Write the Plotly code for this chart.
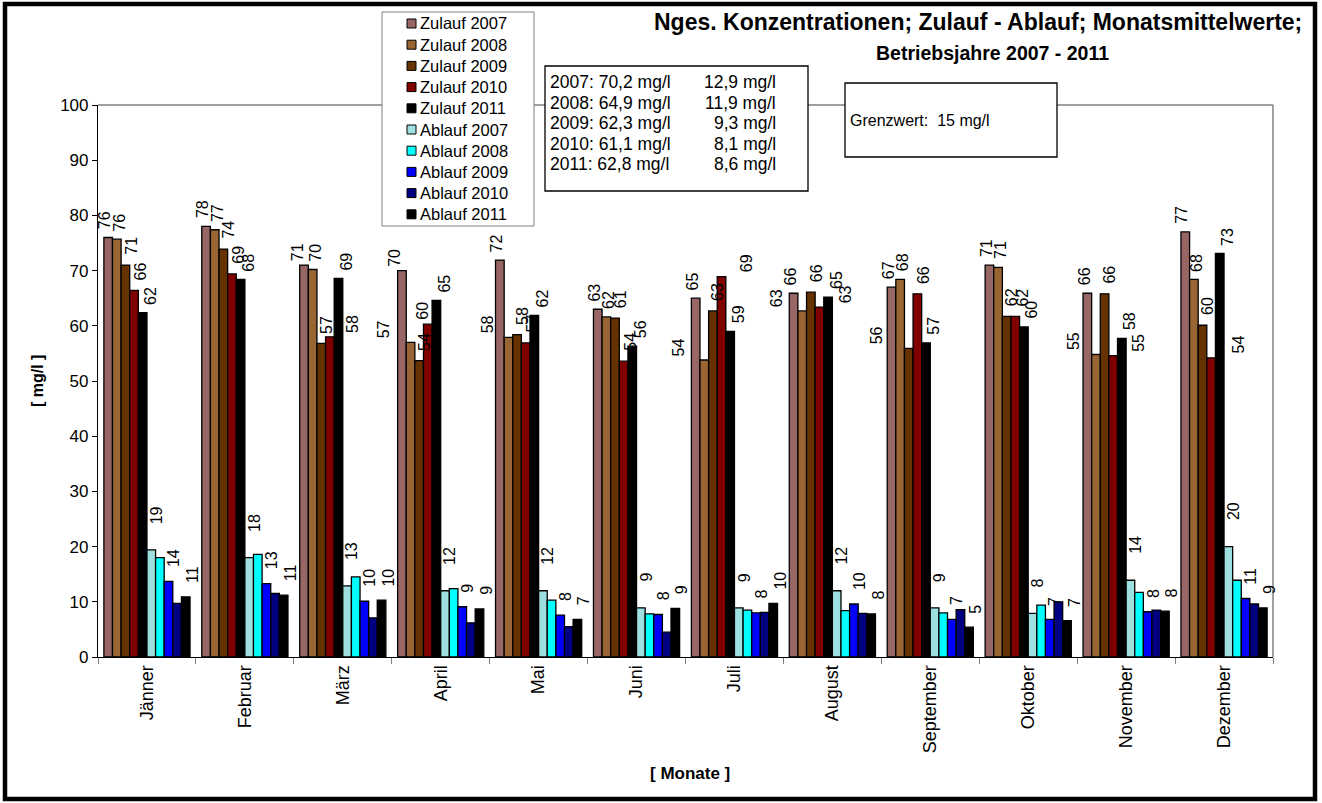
import plotly.graph_objects as go

# ---- data -------------------------------------------------------------
months = ["Jänner", "Februar", "März", "April", "Mai", "Juni", "Juli",
          "August", "September", "Oktober", "November", "Dezember"]

zulauf_2007 = [76.0, 78.0, 71.0, 70.0, 71.9, 63.0, 65.0, 65.9, 67.0, 71.0, 65.9, 77.0]
zulauf_2008 = [75.7, 77.4, 70.2, 57.0, 57.9, 61.6, 53.8, 62.7, 68.4, 70.6, 54.8, 68.4]
zulauf_2009 = [71.0, 73.9, 56.8, 53.7, 58.4, 61.4, 62.7, 66.1, 55.9, 61.7, 65.8, 60.1]
zulauf_2010 = [66.4, 69.4, 58.0, 60.3, 56.9, 53.6, 68.9, 63.4, 65.8, 61.7, 54.6, 54.2]
zulauf_2011 = [62.4, 68.4, 68.6, 64.6, 61.9, 56.3, 59.0, 65.2, 56.9, 59.8, 57.7, 73.1]
ablauf_2007 = [19.4, 18.0, 12.9, 12.0, 12.0, 8.9, 8.9, 12.0, 8.9, 7.9, 13.9, 20.0]
ablauf_2008 = [18.0, 18.6, 14.5, 12.4, 10.3, 7.8, 8.5, 8.4, 8.0, 9.4, 11.7, 13.9]
ablauf_2009 = [13.7, 13.3, 10.1, 9.1, 7.6, 7.7, 8.0, 9.6, 6.8, 6.8, 8.2, 10.6]
ablauf_2010 = [9.7, 11.5, 7.1, 6.2, 5.5, 4.5, 8.1, 7.9, 8.6, 10.0, 8.5, 9.6]
ablauf_2011 = [10.9, 11.2, 10.3, 8.7, 6.8, 8.8, 9.7, 7.8, 5.4, 6.6, 8.3, 8.9]

series_names = ["Zulauf 2007", "Zulauf 2008", "Zulauf 2009", "Zulauf 2010", "Zulauf 2011",
                "Ablauf 2007", "Ablauf 2008", "Ablauf 2009", "Ablauf 2010", "Ablauf 2011"]
series_values = [zulauf_2007, zulauf_2008, zulauf_2009, zulauf_2010, zulauf_2011,
                 ablauf_2007, ablauf_2008, ablauf_2009, ablauf_2010, ablauf_2011]

# yearly means (Zulauf / Ablauf)
mean_years = ["2007", "2008", "2009", "2010", "2011"]
mean_zulauf = [70.2, 64.9, 62.3, 61.1, 62.8]
mean_ablauf = [12.9, 11.9, 9.3, 8.1, 8.6]
grenzwert = 15

title_lines = ["Nges. Konzentrationen; Zulauf - Ablauf; Monatsmittelwerte;",
               "Betriebsjahre 2007 - 2011"]

# ---- style ------------------------------------------------------------
FONT = "Arial, 'Liberation Sans', sans-serif"
colors = ["#996666", "#996633", "#663300", "#800000", "#000000",
          "#9EE0E0", "#00FFFF", "#0000FF", "#000080", "#000000"]

W_FIG, H_FIG = 1322, 803
L, R, T, B = 98, 1273, 105, 657          # plot area in pixels
PW, PH = R - L, B - T

BARGAP = 0.12
N = len(series_names)
BW = (1 - BARGAP) / N                     # bar width in category units


def px_x(p):
    return (p - L) / PW


def px_y(p):
    return (B - p) / PH


def fmt(v):
    return f"{v:.1f}".replace(".", ",")


# data-label placement (label offset in bar widths, gap in px)
label_series = {"Zulauf 2007": (-0.4, 6), "Zulauf 2008": (0.3, 6), "Zulauf 2009": (0.6, 8),
                "Zulauf 2010": (0.8, 8), "Zulauf 2011": (0.9, 6),
                "Ablauf 2007": (0.6, 24), "Ablauf 2009": (0.6, 12), "Ablauf 2011": (0.8, 12)}
label_shift = {("März", "Zulauf 2007"): -0.8, ("März", "Zulauf 2010"): 2.7,
               ("April", "Zulauf 2007"): -0.9, ("April", "Zulauf 2008"): -3.2,
               ("April", "Zulauf 2010"): -0.6, ("Mai", "Zulauf 2008"): -2.5,
               ("Juli", "Zulauf 2008"): -3.0, ("Juli", "Zulauf 2010"): 2.9,
               ("August", "Zulauf 2008"): -2.9, ("August", "Zulauf 2010"): 3.0,
               ("September", "Zulauf 2009"): -3.7, ("November", "Zulauf 2008"): -2.6,
               ("November", "Zulauf 2010"): 2.9, ("Dezember", "Zulauf 2010"): 3.2}

fig = go.Figure()
for name, vals, col in zip(series_names, series_values, colors):
    fig.add_trace(go.Bar(x=months, y=vals, name=name, showlegend=False,
                         marker=dict(color=col, line=dict(color="black", width=1.3))))

annotations = []
for s, (name, vals) in enumerate(zip(series_names, series_values)):
    if name not in label_series:
        continue
    dx, dy = label_series[name]
    for m, (month, v) in enumerate(zip(months, vals)):
        shift = label_shift.get((month, name))
        gap = dy
        if shift is not None:
            dx_use, gap = shift, 2
        else:
            dx_use = dx
        xc = m - (1 - BARGAP) / 2 + (s + 0.5) * BW + dx_use * BW
        annotations.append(dict(x=xc, y=v, xref="x", yref="y", text=f"{v:.0f}",
                                textangle=-90, showarrow=False, xanchor="center",
                                yanchor="bottom", yshift=gap,
                                font=dict(family=FONT, size=16, color="black")))

# title
annotations.append(dict(x=px_x(978), y=px_y(22), xref="paper", yref="paper",
                        text=f"<b>{title_lines[0]}</b>", showarrow=False,
                        xanchor="center", yanchor="middle",
                        font=dict(family=FONT, size=23, color="black")))
annotations.append(dict(x=px_x(992), y=px_y(53), xref="paper", yref="paper",
                        text=f"<b>{title_lines[1]}</b>", showarrow=False,
                        xanchor="center", yanchor="middle",
                        font=dict(family=FONT, size=19.5, color="black")))

# axis titles
annotations.append(dict(x=px_x(37), y=px_y(381), xref="paper", yref="paper",
                        text="<b>[ mg/l ]</b>", textangle=-90, showarrow=False,
                        xanchor="center", yanchor="middle",
                        font=dict(family=FONT, size=16, color="black")))
annotations.append(dict(x=px_x(690), y=px_y(773), xref="paper", yref="paper",
                        text="<b>[ Monate ]</b>", showarrow=False,
                        xanchor="center", yanchor="middle",
                        font=dict(family=FONT, size=17, color="black")))

shapes = []
# plot-area frame (top / right)
shapes.append(dict(type="line", xref="paper", yref="paper", x0=0, x1=1, y0=1, y1=1,
                   line=dict(color="#808080", width=1.5), layer="below"))
shapes.append(dict(type="line", xref="paper", yref="paper", x0=1, x1=1, y0=0, y1=1,
                   line=dict(color="#808080", width=1.5), layer="below"))

# legend box
shapes.append(dict(type="rect", xref="paper", yref="paper",
                   x0=px_x(382), x1=px_x(534), y0=px_y(226), y1=px_y(12),
                   fillcolor="white", line=dict(color="#808080", width=1), layer="above"))
for i, (name, col) in enumerate(zip(series_names, colors)):
    yc = 23.5 + i * 21.2
    shapes.append(dict(type="rect", xref="paper", yref="paper",
                       x0=px_x(407), x1=px_x(416), y0=px_y(yc + 4.5), y1=px_y(yc - 4.5),
                       fillcolor=col, line=dict(color="black", width=1), layer="above"))
    annotations.append(dict(x=px_x(418), y=px_y(yc), xref="paper", yref="paper",
                            text=name, showarrow=False, xanchor="left", yanchor="middle",
                            font=dict(family=FONT, size=16.5, color="black")))

# yearly mean box
shapes.append(dict(type="rect", xref="paper", yref="paper",
                   x0=px_x(545), x1=px_x(808), y0=px_y(191), y1=px_y(66),
                   fillcolor="white", line=dict(color="black", width=1.3), layer="above"))
for i, (yr, zu, ab) in enumerate(zip(mean_years, mean_zulauf, mean_ablauf)):
    yc = 82 + i * 20.6
    annotations.append(dict(x=px_x(548), y=px_y(yc), xref="paper", yref="paper",
                            text=f"{yr}: {fmt(zu)} mg/l", showarrow=False,
                            xanchor="left", yanchor="middle",
                            font=dict(family=FONT, size=17.5, color="black")))
    annotations.append(dict(x=px_x(778), y=px_y(yc), xref="paper", yref="paper",
                            text=f"{fmt(ab)} mg/l", showarrow=False,
                            xanchor="right", yanchor="middle",
                            font=dict(family=FONT, size=17.5, color="black")))

# limit value box
shapes.append(dict(type="rect", xref="paper", yref="paper",
                   x0=px_x(845), x1=px_x(1057), y0=px_y(157), y1=px_y(83),
                   fillcolor="white", line=dict(color="black", width=1.3), layer="above"))
annotations.append(dict(x=px_x(848), y=px_y(120), xref="paper", yref="paper",
                        text=f"Grenzwert:\u00a0 {grenzwert} mg/l", showarrow=False,
                        xanchor="left", yanchor="middle",
                        font=dict(family=FONT, size=16, color="black")))

# outer frame
shapes.append(dict(type="rect", xref="paper", yref="paper",
                   x0=px_x(5), x1=px_x(1315), y0=px_y(799), y1=px_y(4),
                   fillcolor="rgba(0,0,0,0)", line=dict(color="black", width=4.5),
                   layer="above"))

fig.update_layout(
    width=W_FIG, height=H_FIG, autosize=False,
    margin=dict(l=L, r=W_FIG - R, t=T, b=H_FIG - B, pad=0),
    paper_bgcolor="white", plot_bgcolor="white",
    barmode="group", bargap=BARGAP, bargroupgap=0,
    showlegend=False,
    font=dict(family=FONT, color="black"),
    xaxis=dict(type="category", range=[-0.5, len(months) - 0.5], showgrid=False,
               showline=True, linecolor="black", linewidth=1.2,
               ticks="outside", tickson="boundaries", ticklen=6, tickcolor="#808080",
               tickangle=-90, tickfont=dict(family=FONT, size=18, color="black")),
    yaxis=dict(range=[0, 100], dtick=10, showgrid=False, zeroline=False,
               showline=True, linecolor="black", linewidth=1.2,
               ticks="outside", ticklen=5, tickcolor="black",
               tickfont=dict(family=FONT, size=17, color="black")),
    annotations=annotations,
    shapes=shapes,
)

fig.write_html("out.html")
